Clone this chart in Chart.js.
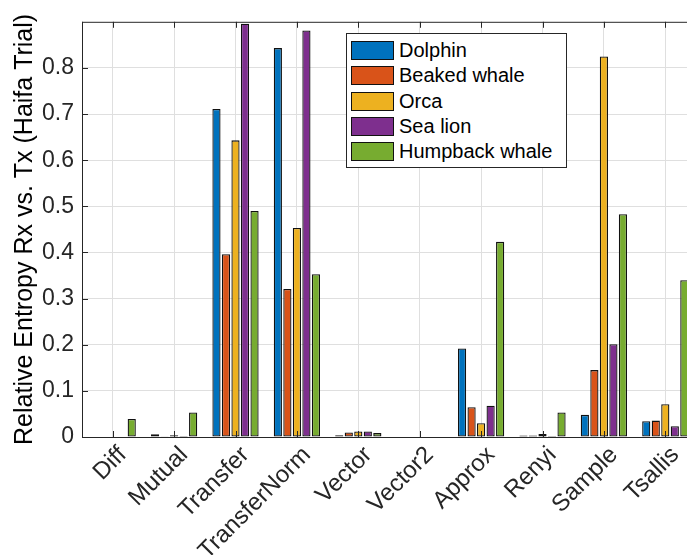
<!DOCTYPE html>
<html>
<head>
<meta charset="utf-8">
<script src="https://cdn.jsdelivr.net/npm/chart.js@4"></script>
<style>
  html, body { margin: 0; padding: 0; background: #fff; overflow: hidden; }
  body { width: 687px; height: 555px; position: relative; }
  #wrap { position: absolute; left: 0; top: 0; width: 700px; height: 555px; }
  #legend {
    position: absolute; left: 346px; top: 33px; width: 215px; height: 129px;
    border: 1px solid #262626; background: #fff; padding: 4px 0 0 4px; box-sizing: content-box;
    font-family: "Liberation Sans", Arial, sans-serif; font-size: 20px; color: #000;
  }
  #legend .row { height: 25.3px; display: flex; align-items: center; }
  #legend .sw { width: 41px; height: 17px; border: 1px solid #111; margin-right: 5px; }
</style>
</head>
<body>
<div id="wrap"><canvas id="chart"></canvas></div>
<div id="legend"></div>
<script>
var categories = ['Diff', 'Mutual', 'Transfer', 'TransferNorm', 'Vector', 'Vector2', 'Approx', 'Renyi', 'Sample', 'Tsallis'];
var seriesNames = ['Dolphin', 'Beaked whale', 'Orca', 'Sea lion', 'Humpback whale'];
var seriesColors = ['#0072BD', '#D95319', '#EDB120', '#7E2F8E', '#77AC30'];

var dolphin  = [0, 0.006, 0.711, 0.843, 0.004, 0, 0.192, 0.0035, 0.048, 0.034];
var beaked   = [0, 0.0015, 0.396, 0.321, 0.010, 0, 0.0645, 0.0035, 0.145, 0.0355];
var orca     = [0, 0.004, 0.643, 0.453, 0.012, 0, 0.030, 0.0064, 0.825, 0.071];
var seaLion  = [0, 0.002, 0.896, 0.881, 0.012, 0, 0.068, 0.002, 0.201, 0.0234];
var humpback = [0.039, 0.053, 0.490, 0.353, 0.0085, 0, 0.423, 0.053, 0.483, 0.340];

var yTicks = [0, 0.1, 0.2, 0.3, 0.4, 0.5, 0.6, 0.7, 0.8];

var FONT = '"Liberation Sans", Arial, sans-serif';
var AXIS = '#262626';

var allSeries = [dolphin, beaked, orca, seaLion, humpback];
var datasets = allSeries.map(function(vals, i) {
    return {
        label: seriesNames[i],
        data: vals,
        backgroundColor: seriesColors[i],
        borderColor: '#111',
        borderWidth: 1.3,
        borderSkipped: false,
        categoryPercentage: 0.775,
        barPercentage: 0.86
    };
});

// MATLAB-style box: top edge plus inward tick marks drawn over the bars
var boxTicks = {
    id: 'boxTicks',
    afterDatasetsDraw: function(chart) {
        var ctx = chart.ctx, a = chart.chartArea;
        var xs = chart.scales.x, ys = chart.scales.y;
        ctx.save();
        ctx.strokeStyle = AXIS;
        ctx.lineWidth = 1;
        ctx.beginPath();
        ctx.moveTo(a.left, a.top + 0.5);
        ctx.lineTo(a.right, a.top + 0.5);
        ctx.moveTo(a.left + 0.5, a.top);
        ctx.lineTo(a.left + 0.5, a.bottom);
        ctx.moveTo(a.left, a.bottom + 0.5);
        ctx.lineTo(a.right, a.bottom + 0.5);
        for (var i = 0; i < xs.ticks.length; i++) {
            var px = Math.round(xs.getPixelForTick(i)) + 0.5;
            ctx.moveTo(px, a.bottom);
            ctx.lineTo(px, a.bottom - 6);
            ctx.moveTo(px, a.top);
            ctx.lineTo(px, a.top + 6);
        }
        yTicks.forEach(function(v) {
            var py = Math.round(ys.getPixelForValue(v)) + 0.5;
            ctx.moveTo(a.left, py);
            ctx.lineTo(a.left + 6, py);
        });
        ctx.stroke();
        ctx.restore();
    }
};

var ctx = document.getElementById('chart').getContext('2d');
var myChart = new Chart(ctx, {
    type: 'bar',
    data: { labels: categories, datasets: datasets },
    plugins: [boxTicks],
    options: {
        responsive: true,
        maintainAspectRatio: false,
        animation: false,
        devicePixelRatio: 1,
        layout: { padding: { top: 13, right: 4, left: 0, bottom: 0 } },
        plugins: { legend: { display: false }, tooltip: { enabled: false } },
        scales: {
            x: {
                grid: { color: '#dfdfdf', offset: false, drawTicks: false },
                border: { display: false },
                ticks: {
                    color: AXIS,
                    font: { family: FONT, size: 24 },
                    maxRotation: 45,
                    minRotation: 45,
                    padding: 4,
                    labelOffset: 10
                },
                afterFit: function(scale) { scale.height = 118; }
            },
            y: {
                min: 0,
                max: 0.9,
                grid: { color: '#dfdfdf', drawTicks: false },
                border: { display: false },
                afterBuildTicks: function(scale) {
                    scale.ticks = yTicks.map(function(v) { return { value: v }; });
                },
                ticks: {
                    color: AXIS,
                    font: { family: FONT, size: 23 },
                    padding: 8,
                    callback: function(v) { return String(Math.round(v * 10) / 10); }
                },
                title: {
                    display: true,
                    text: 'Relative Entropy Rx vs. Tx (Haifa Trial)',
                    color: '#000',
                    font: { family: FONT, size: 25 },
                    padding: { top: 10, bottom: 0 }
                },
                afterFit: function(scale) { scale.width = 82; }
            }
        }
    }
});

// legend box inside the plot
var legendBox = document.getElementById('legend');
seriesNames.forEach(function(name, i) {
    var row = document.createElement('div');
    row.className = 'row';
    var sw = document.createElement('div');
    sw.className = 'sw';
    sw.style.background = seriesColors[i];
    var txt = document.createElement('span');
    txt.textContent = name;
    row.appendChild(sw);
    row.appendChild(txt);
    legendBox.appendChild(row);
});
</script>
</body>
</html>
